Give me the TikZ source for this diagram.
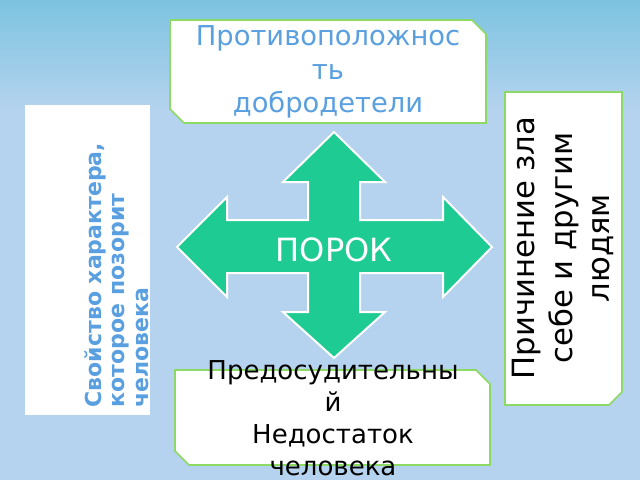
\documentclass[tikz,border=0pt]{standalone}
\usepackage{fontspec}
\setmainfont{DejaVu Sans}
\begin{document}
\begin{tikzpicture}[x=0.75pt,y=-0.75pt,
  box/.style={fill=white,draw=green!50!olive!60,line width=1.2pt},
  txt/.style={font=\fontsize{20.5}{25}\selectfont,align=center}]
\definecolor{bg}{HTML}{B5D3EE}
\definecolor{bgtop}{HTML}{7CC3E0}
\definecolor{bluetxt}{HTML}{5AA0E0}
\definecolor{cross}{HTML}{1ECB93}
\useasboundingbox (0,0) rectangle (640,480);
\fill[bg] (0,0) rectangle (640,480);
\shade[top color=bgtop,bottom color=bg] (0,0) rectangle (640,110);
% top box
\draw[box] (170,20) -- (472,20) -- (486,34) -- (486,123) -- (184,123) -- (170,109) -- cycle;
\node[txt,text=bluetxt] (top) at (328,72) {Противоположнос\\ть\\добродетели};
% left box
\fill[white] (25,105) rectangle (150,415);
\node[rotate=90,font=\bfseries\fontsize{16.5}{17.5}\selectfont,text=bluetxt,align=left,anchor=north west] (left) at (80,412) {Свойство характера,\\которое позорит\\человека};
% right box
\draw[box] (505,92) -- (622,92) -- (622,392) -- (609,405) -- (505,405) -- cycle;
\node[rotate=90,txt,font=\fontsize{23}{28}\selectfont] (right) at (563,248) {Причинение зла\\себе и другим\\людям};
% cross
\draw[fill=cross,draw=white,line width=1.5pt] (334,132) -- (385,182) -- (360,182) -- (360,220) -- (443,220) -- (443,197) -- (492,247) -- (443,297) -- (443,273) -- (360,273) -- (360,312) -- (385,312) -- (334,358) -- (283,312) -- (308,312) -- (308,273) -- (227,273) -- (227,297) -- (177,247) -- (227,197) -- (227,220) -- (308,220) -- (308,182) -- (283,182) -- cycle;
\node[text=white,font=\fontsize{24}{26}\selectfont] (vice) at (334,250) {ПОРОК};
% bottom box
\draw[box] (175,370) -- (476,370) -- (490,384) -- (490,465) -- (189,465) -- (175,451) -- cycle;
\node[txt,anchor=north,font=\fontsize{19.5}{24}\selectfont] (bottom) at (333,356) {Предосудительны\\й\\Недостаток\\человека};
\end{tikzpicture}
\end{document}
